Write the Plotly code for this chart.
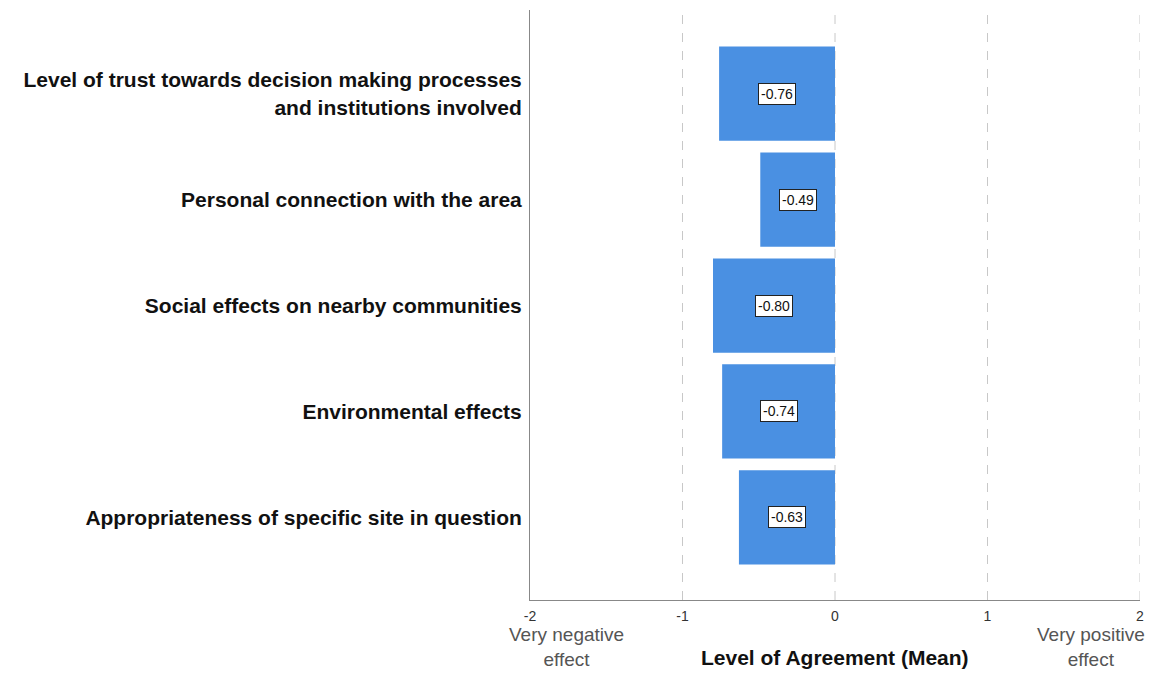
import plotly.graph_objects as go

categories = [
    "Level of trust towards decision making processes<br>and institutions involved",
    "Personal connection with the area",
    "Social effects on nearby communities",
    "Environmental effects",
    "Appropriateness of specific site in question",
]
means = [-0.76, -0.49, -0.80, -0.74, -0.63]
tick_vals = [-2, -1, 0, 1, 2]
end_labels = ["Very negative<br>effect", "Very positive<br>effect"]

fig = go.Figure()
fig.add_trace(go.Bar(
    x=means, y=list(range(len(categories))), orientation="h",
    marker=dict(color="#4a90e2", line=dict(width=0)),
    width=0.89, showlegend=False, hoverinfo="x",
))

# value labels in white boxes at bar middle
for i, v in enumerate(means):
    fig.add_annotation(
        x=v / 2, y=i, text=f"{v:.2f}", showarrow=False,
        font=dict(family="Arial", size=14, color="#111"),
        bgcolor="white", bordercolor="#222", borderwidth=1, borderpad=2,
    )

# dashed grid
for t in tick_vals[1:]:
    fig.add_shape(type="line", x0=t, x1=t, y0=0, y1=1, xref="x", yref="paper",
                  line=dict(color="#c8c8c8", width=1, dash="dash"), layer="below")

# end labels sit just inside the axis ends (paper coords so they are not clipped)
fig.add_annotation(
    x=-0.038, y=-0.08, xref="paper", yref="paper", text=end_labels[0],
    showarrow=False, yanchor="middle", xanchor="left", align="center",
    font=dict(family="Arial", size=19, color="#555"),
)
fig.add_annotation(
    x=1.011, y=-0.08, xref="paper", yref="paper", text=end_labels[1],
    showarrow=False, yanchor="middle", xanchor="right", align="center",
    font=dict(family="Arial", size=19, color="#555"),
)

fig.add_annotation(
    x=0, y=-0.098, xref="x", yref="paper", text="<b>Level of Agreement (Mean)</b>",
    showarrow=False, yanchor="middle", font=dict(family="Arial", size=21, color="#111"),
)

fig.update_layout(
    width=1150, height=665,
    margin=dict(l=522, r=18, t=2, b=73),
    plot_bgcolor="white", paper_bgcolor="white",
    font=dict(family="Arial", color="#222"),
    xaxis=dict(
        range=[-2, 2], tickvals=tick_vals, ticktext=[str(t) for t in tick_vals],
        showgrid=False, zeroline=False, showline=True, linecolor="#888", linewidth=1,
        ticks="outside", ticklen=3, tickcolor="white", tickfont=dict(size=14, color="#333"),
    ),
    yaxis=dict(
        range=[4.78, -0.79], tickvals=list(range(len(categories))), ticktext=[f"<b>{c}</b>" for c in categories],
        showgrid=False, zeroline=False, showline=True, linecolor="#888", linewidth=1,
        ticks="", tickfont=dict(size=21, color="#111"), ticklabelstandoff=3,
    ),
)

fig.write_html("out.html")
